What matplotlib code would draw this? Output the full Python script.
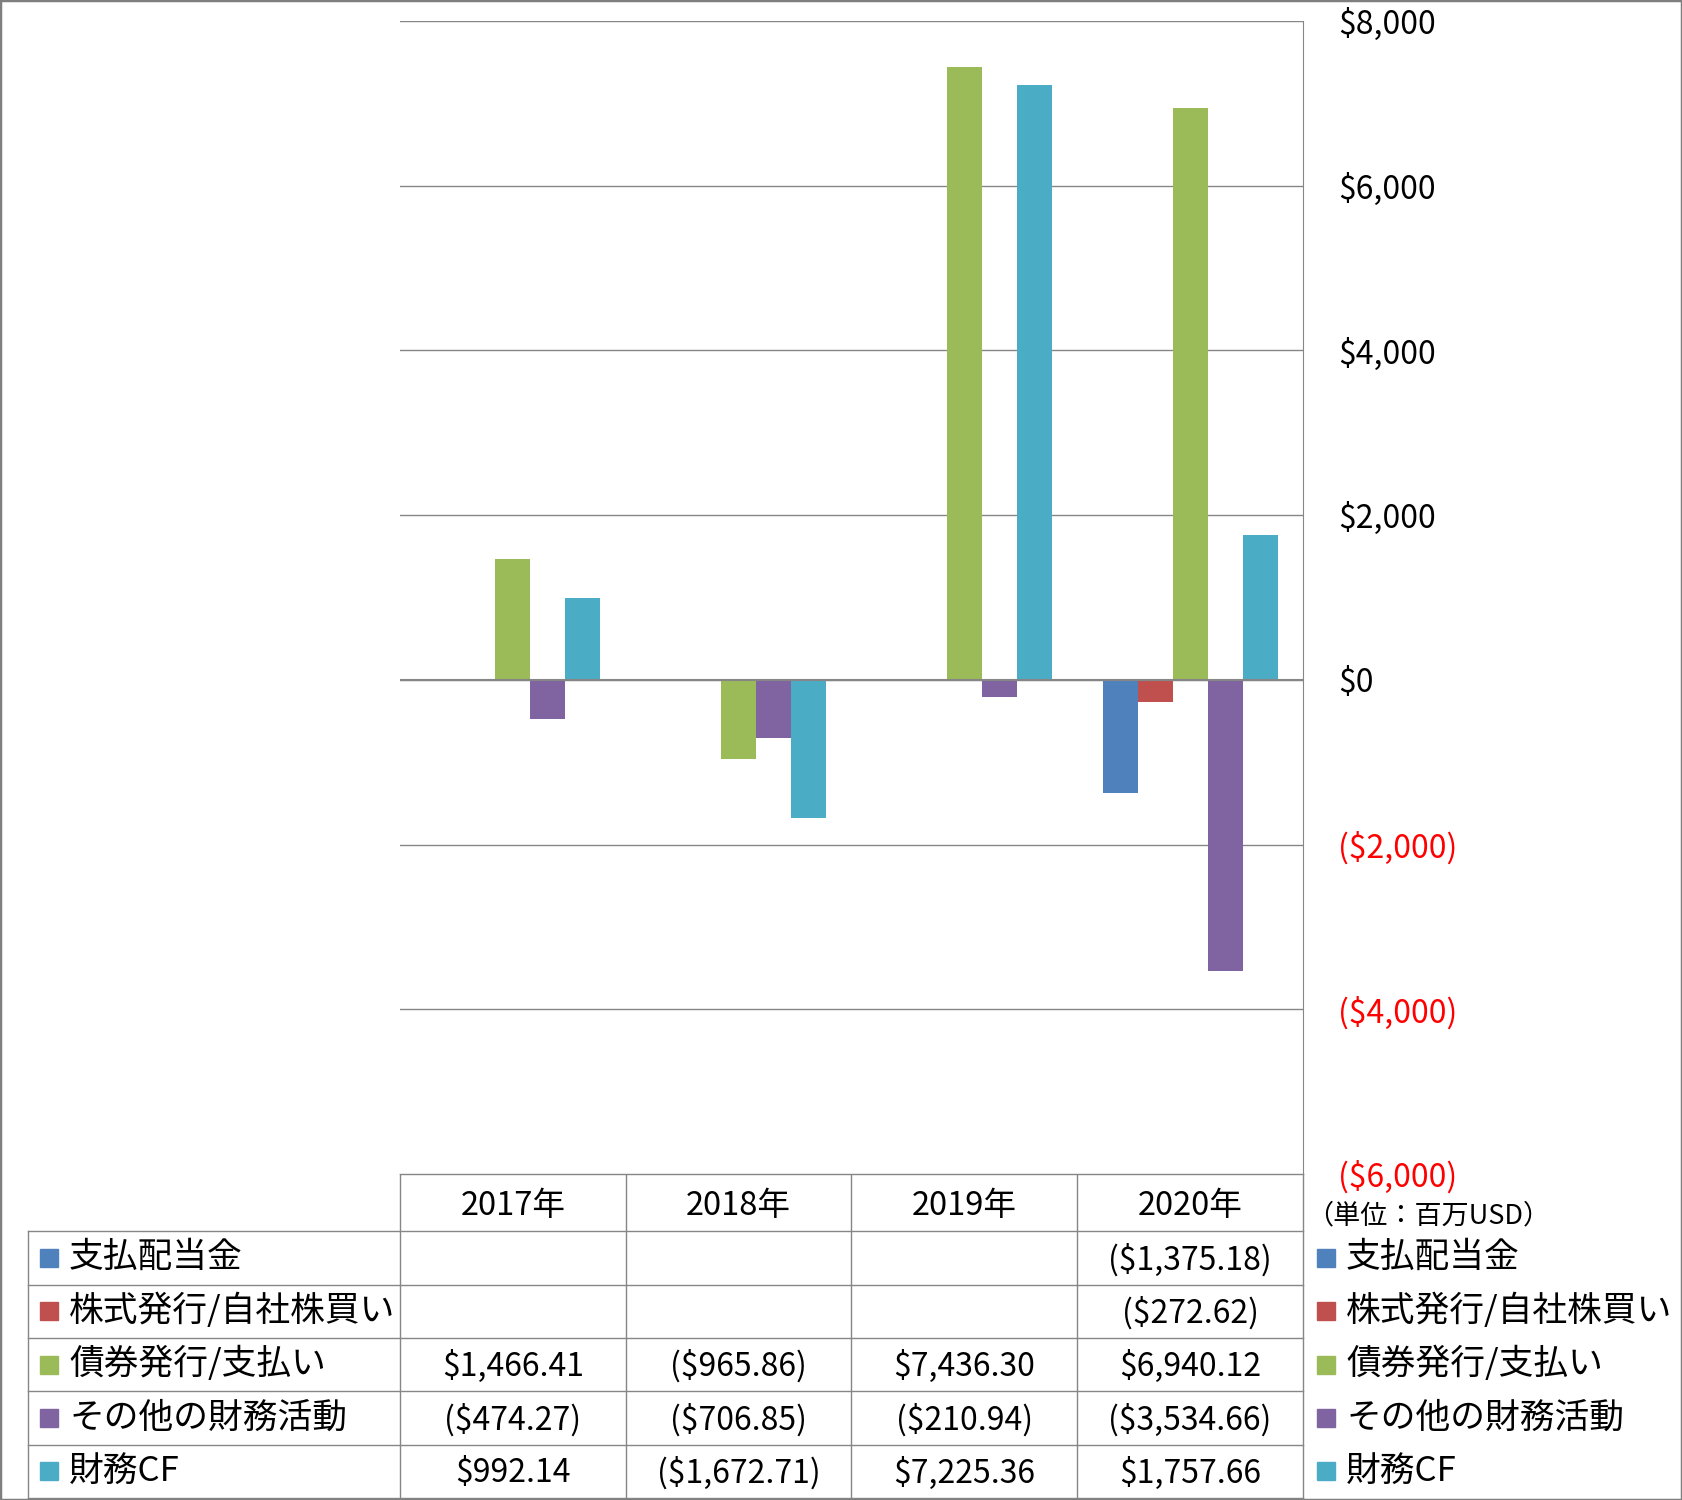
import numpy as np
import matplotlib
matplotlib.use('Agg')
import matplotlib.pyplot as plt
from matplotlib.patches import Rectangle

plt.rcParams['font.family'] = ['Noto Sans CJK JP', 'DejaVu Sans']

# data (million USD)
years = ['2017年', '2018年', '2019年', '2020年']
series = ['支払配当金', '株式発行/自社株買い', '債券発行/支払い', 'その他の財務活動', '財務CF']
dividends = [np.nan, np.nan, np.nan, -1375.18]
stock = [np.nan, np.nan, np.nan, -272.62]
bonds = [1466.41, -965.86, 7436.30, 6940.12]
other = [-474.27, -706.85, -210.94, -3534.66]
fin_cf = [992.14, -1672.71, 7225.36, 1757.66]
colors = ['#4F81BD', '#C0504D', '#9BBB59', '#8064A2', '#4BACC6']
yticks = np.arange(-6000, 8001, 2000)
unit_label = '（単位：百万USD）'

values = [dividends, stock, bonds, other, fin_cf]


def money(v, dec=2):
    if np.isnan(v):
        return ''
    s = '${:,.{}f}'.format(abs(v), dec)
    return '({})'.format(s) if v < 0 else s


W, H = 1682, 1500
plot_l, plot_r, plot_t, plot_b = 400, 1303, 21, 1174
tab_l, tab_b = 28, 1498
grey = '#868686'

fig = plt.figure(figsize=(W / 100, H / 100), dpi=100)
fig.patches.append(Rectangle((0, 0), 1, 1, transform=fig.transFigure,
                             fill=False, ec='#7f7f7f', lw=2.5))

ax = fig.add_axes([plot_l / W, 1 - plot_b / H, (plot_r - plot_l) / W,
                   (plot_b - plot_t) / H])
ax.set_xlim(0, len(years))
ax.set_ylim(yticks[0], yticks[-1])

bw = 0.155
x = np.arange(len(years)) + 0.5
for k, (vals, c) in enumerate(zip(values, colors)):
    ax.bar(x + (k - 2) * bw, vals, width=bw, color=c, zorder=3)

ax.set_yticks(yticks)
ax.yaxis.tick_right()
ax.set_yticklabels([money(t, 0) for t in yticks], fontsize=23)
for lab, t in zip(ax.get_yticklabels(), yticks):
    lab.set_color('red' if t < 0 else 'black')
    lab.set_horizontalalignment('left')
ax.tick_params(axis='y', length=0, pad=25)
ax.set_xticks([])
ax.grid(axis='y', color=grey, lw=1)
ax.axhline(0, color=grey, lw=1.5, zorder=4)
for s in ['left', 'top', 'bottom']:
    ax.spines[s].set_visible(False)
ax.spines['right'].set_color(grey)

# unit label
fig.text(1306 / W, 1 - 1216 / H, unit_label, fontsize=19.5, va='center', ha='left')

# data table under the chart
tax = fig.add_axes([0, 0, 1, 1], zorder=-1)
tax.set_xlim(0, W)
tax.set_ylim(H, 0)
tax.axis('off')

colw = (plot_r - plot_l) / len(years)
col_x = [plot_l + i * colw for i in range(len(years) + 1)]
rows = [1174, 1231, 1284.5, 1338, 1391, 1444.5, 1498]

tax.plot([plot_l, plot_r], [rows[0]] * 2, color=grey, lw=1)
for yy in rows[1:]:
    tax.plot([tab_l, plot_r], [yy] * 2, color=grey, lw=1)
tax.plot([tab_l, tab_l], [rows[1], rows[-1]], color=grey, lw=1)
for xx in col_x:
    tax.plot([xx, xx], [rows[0], rows[-1]], color=grey, lw=1)

for i, yr in enumerate(years):
    tax.text(col_x[i] + colw / 2, (rows[0] + rows[1]) / 2 + 3, yr,
             fontsize=23.5, ha='center', va='center')

for r, (name, vals, c) in enumerate(zip(series, values, colors)):
    yc = (rows[r + 1] + rows[r + 2]) / 2
    for sx, tx in [(40, 69), (1317, 1346)]:
        tax.add_patch(Rectangle((sx, yc - 9), 18, 18, color=c, clip_on=False))
        tax.text(tx, yc, name, fontsize=25, ha='left', va='center')
    for i, v in enumerate(vals):
        tax.text(col_x[i] + colw / 2, yc + 2, money(v), fontsize=23,
                 ha='center', va='center')

fig.savefig('out.png', dpi=100)
